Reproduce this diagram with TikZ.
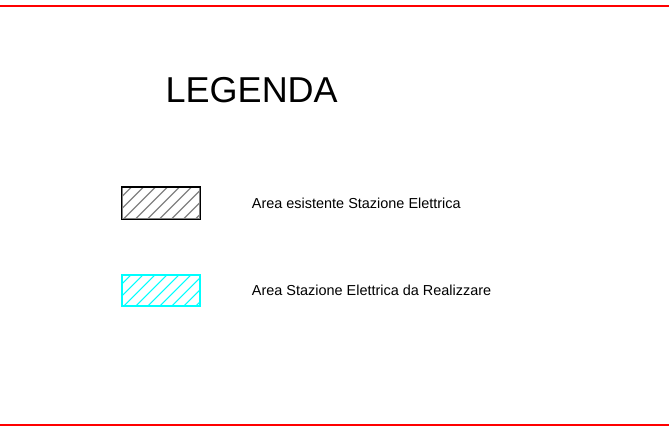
\documentclass[tikz,border=0pt]{standalone}
\usepackage{fontspec}
\setmainfont{Liberation Sans}
\usetikzlibrary{positioning}
\usetikzlibrary{calc}
\definecolor{aqua}{RGB}{0,255,255}
\tikzset{hatchbox/.style={rectangle,draw=#1,line width=1.4pt,minimum width=78pt,minimum height=31pt,inner sep=0pt,
  path picture={\foreach \i in {0,...,10} \draw[#1,line width=1.1pt] ($(path picture bounding box.south west)+(\i*12pt-22pt,0)$) -- ++(34pt,34pt);}}}
\tikzset{legtext/.style={anchor=west,inner sep=0pt,font=\fontsize{14.45}{16}\selectfont}}

\begin{document}
\begin{tikzpicture}[x=1pt,y=-1pt]
            \useasboundingbox (0,0) rectangle (669,429);
            \draw[red,line width=2pt] (0,5.5) -- (669,5.5);
            \draw[red,line width=2pt] (0,424.5) -- (669,424.5);
            \node [anchor=base west,inner sep=0pt,font=\fontsize{36}{40}\selectfont] (title) at (165.5,102) {LEGENDA};
            \node [hatchbox=black!50] (exist) at (161,203) {};
            \draw[black,line width=1.4pt] (exist.south west) rectangle (exist.north east);
            \node [hatchbox=aqua] (new) at (161,290.3) {};
            \node [legtext,right=51pt of exist] (existlab) {Area esistente Stazione Elettrica};
            \node [legtext,right=51pt of new] (newlab) {Area Stazione Elettrica da Realizzare};
        \end{tikzpicture}
\end{document}
